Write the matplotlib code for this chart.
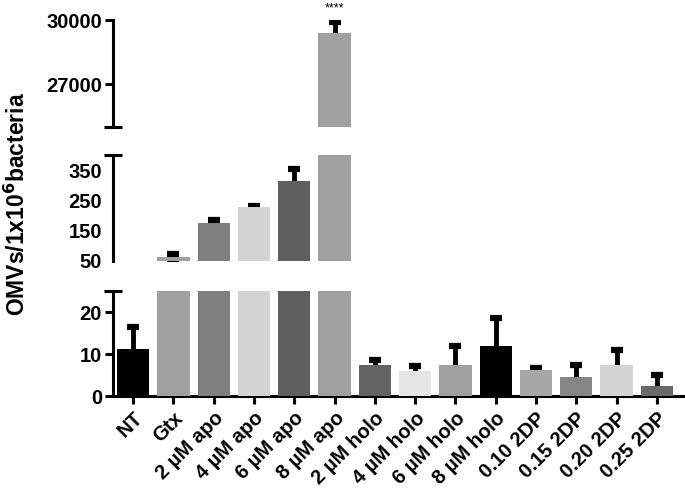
import matplotlib
matplotlib.use("Agg")
import matplotlib.pyplot as plt
import numpy as np

plt.rcParams['font.family'] = ['Liberation Sans', 'DejaVu Sans']
plt.rcParams['font.weight'] = 'bold'

groups = ['NT', 'Gtx', '2 µM apo', '4 µM apo', '6 µM apo', '8 µM apo',
          '2 µM holo', '4 µM holo', '6 µM holo', '8 µM holo',
          '0.10 2DP', '0.15 2DP', '0.20 2DP', '0.25 2DP']
means = [11.3, 64, 176, 227, 314, 29390,
         7.5, 5.9, 7.3, 11.8, 6.1, 4.5, 7.5, 2.4]
errs = [5.2, 9, 8, 5, 40, 500,
        1.1, 1.3, 4.5, 6.8, 0.6, 2.8, 3.5, 2.5]
colors = ['#000000', '#a0a0a0', '#7f7f7f', '#d3d3d3', '#5f5f5f', '#a0a0a0',
          '#636363', '#e6e6e6', '#a0a0a0', '#000000',
          '#a6a6a6', '#858585', '#d4d4d4', '#6a6a6a']

# y ranges of the three broken segments (bottom, middle, top)
seg_lims = [(0, 25), (50, 400), (25000, 30000)]
seg_ticks = [[0, 10, 20], [50, 150, 250, 350], [27000, 30000]]

W, H = 685, 496
fig = plt.figure(figsize=(W / 100, H / 100), dpi=100)

left, right = 113, 683
# pixel rows (top, bottom) of each segment
seg_px = [(291, 396), (155, 261), (20, 127)]

x = np.arange(len(groups))
lw = 2.2
axes = []
for (lo, hi), ticks, (pt, pb) in zip(seg_lims, seg_ticks, seg_px):
    ax = fig.add_axes([left / W, 1 - pb / H, (right - left) / W, (pb - pt) / H])
    ax.bar(x, means, width=0.8, color=colors, zorder=3)
    ax.errorbar(x, means, yerr=errs, fmt='none', ecolor='black',
                elinewidth=3.5, capsize=4.5, capthick=4.5, zorder=2)
    ax.set_xlim(-0.5, 13.65)
    ax.set_ylim(lo, hi)
    ax.set_yticks(ticks)
    ax.tick_params(axis='y', labelsize=14.5, width=lw, length=6, pad=2)
    for s in ['top', 'right', 'bottom']:
        ax.spines[s].set_visible(False)
    ax.spines['left'].set_linewidth(lw)
    ax.patch.set_alpha(0)
    # cap at the broken end of the axis
    ax.plot([-0.016, 0.016], [1, 1], transform=ax.transAxes, color='black',
            lw=lw, clip_on=False, solid_capstyle='butt')
    axes.append(ax)

ax_bot, ax_mid, ax_top = axes

# bottom segment: real x axis
ax_bot.spines['bottom'].set_visible(True)
ax_bot.spines['bottom'].set_linewidth(lw)
ax_bot.set_xticks(x)
ax_bot.set_xticklabels(groups, rotation=45, ha='right', rotation_mode='anchor',
                       fontsize=14.5, fontweight='bold')
ax_bot.tick_params(axis='x', width=lw, length=6, pad=3)
for ax in (ax_mid, ax_top):
    ax.set_xticks([])

# middle segment: only the 50 tick carries a mark
ax_mid.tick_params(axis='y', length=0, pad=8)
ax_mid.set_yticks([50], minor=True)
ax_mid.tick_params(axis='y', which='minor', length=6, width=lw)

# top segment: cap at the lower end instead of upper
ax_top.lines[-1].remove()
ax_top.plot([-0.016, 0.016], [0, 0], transform=ax_top.transAxes, color='black',
            lw=lw, clip_on=False, solid_capstyle='butt')

ax_top.annotate('****', xy=(5, means[5] + errs[5]), xytext=(0, 6),
                textcoords='offset points', ha='center', va='bottom',
                fontsize=9, fontweight='normal')

fig.text(17 / W, 1 - 204 / H, 'OMVs/1x10$^{\\mathbf{6}}$bacteria', rotation=90,
         ha='center', va='center', fontsize=16.5, fontweight='bold')

fig.savefig('out.png', dpi=100)
